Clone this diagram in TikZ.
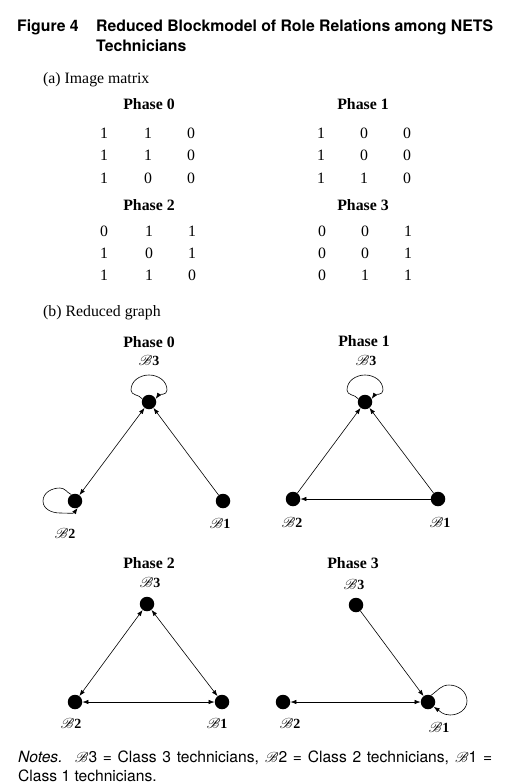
\documentclass[tikz,border=0pt]{standalone}
\usepackage{fontspec}
\setmainfont{Liberation Serif}
\setsansfont{TeX Gyre Heros}
\usepackage{mathrsfs}
\usetikzlibrary{arrows.meta,calc}
\newcommand{\BB}[1]{$\mathscr{B}$\textbf{#1}}
\newcommand{\BN}[1]{$\mathscr{B}$#1}
\begin{document}
\begin{tikzpicture}[x=1pt,y=1pt,
  vtx/.style={circle,fill=black,inner sep=0pt,minimum size=14.5pt},
  arr/.style={-{Latex[length=6pt,width=4.5pt]},line width=0.6pt},
  barr/.style={{Latex[length=6pt,width=4.5pt]}-{Latex[length=6pt,width=4.5pt]},line width=0.6pt},
  lbl/.style={font=\fontsize{14}{16}\selectfont,inner sep=0pt},
  body/.style={font=\fontsize{15.8}{18}\selectfont,inner sep=0pt},
  head/.style={font=\fontsize{15.8}{18}\selectfont\bfseries,inner sep=0pt},
  ttl/.style={font=\sffamily\bfseries\fontsize{15.8}{19}\selectfont,inner sep=0pt,anchor=base west},
  note/.style={font=\sffamily\fontsize{15.6}{18}\selectfont,inner sep=0pt,anchor=base west},
]
\useasboundingbox (0,0) rectangle (511,-784);

% title
\node[ttl] (fig) at (17,-32) {Figure 4};
\node[ttl] (t1) at (96,-32) {Reduced Blockmodel of Role Relations among NETS};
\node[ttl] (t2) at (96,-52) {Technicians};

% (a) image matrix
\node[body,anchor=base west] (pa) at (43,-84) {(a) Image matrix};
\node[head,anchor=base] (h0) at (149,-109.5) {Phase 0};
\node[head,anchor=base] (h1) at (363,-109.5) {Phase 1};
\node[head,anchor=base] (h2) at (149,-210) {Phase 2};
\node[head,anchor=base] (h3) at (363,-210) {Phase 3};

% Phase 0 matrix
\node[body] (m0a) at (104,-133) {1}; \node[body] (m0b) at (148,-133) {1}; \node[body] (m0c) at (191,-133) {0};
\node[body] (m0d) at (104,-155) {1}; \node[body] (m0e) at (148,-155) {1}; \node[body] (m0f) at (191,-155) {0};
\node[body] (m0g) at (104,-178) {1}; \node[body] (m0h) at (148,-178) {0}; \node[body] (m0i) at (191,-178) {0};
% Phase 1 matrix
\node[body] (m1a) at (321,-133) {1}; \node[body] (m1b) at (364,-133) {0}; \node[body] (m1c) at (407,-133) {0};
\node[body] (m1d) at (321,-155) {1}; \node[body] (m1e) at (364,-155) {0}; \node[body] (m1f) at (407,-155) {0};
\node[body] (m1g) at (321,-178) {1}; \node[body] (m1h) at (364,-178) {1}; \node[body] (m1i) at (407,-178) {0};
% Phase 2 matrix
\node[body] (m2a) at (104,-231) {0}; \node[body] (m2b) at (149,-231) {1}; \node[body] (m2c) at (192,-231) {1};
\node[body] (m2d) at (104,-253) {1}; \node[body] (m2e) at (149,-253) {0}; \node[body] (m2f) at (192,-253) {1};
\node[body] (m2g) at (104,-275) {1}; \node[body] (m2h) at (149,-275) {1}; \node[body] (m2i) at (192,-275) {0};
% Phase 3 matrix
\node[body] (m3a) at (322,-231) {0}; \node[body] (m3b) at (365,-231) {0}; \node[body] (m3c) at (408,-231) {1};
\node[body] (m3d) at (322,-253) {0}; \node[body] (m3e) at (365,-253) {0}; \node[body] (m3f) at (408,-253) {1};
\node[body] (m3g) at (322,-275) {0}; \node[body] (m3h) at (365,-275) {1}; \node[body] (m3i) at (408,-275) {1};

% (b) reduced graph
\node[body,anchor=base west] (pb) at (43,-316) {(b) Reduced graph};

% ---------- Phase 0 graph
\node[head] (g0) at (149,-342) {Phase 0};
\node[vtx] (a3) at (149,-402) {};
\node[vtx] (a2) at (75,-501) {};
\node[vtx] (a1) at (223,-501) {};
\node[lbl] (la3) at (149,-361) {\BB{3}};
\node[lbl] (la2) at (65,-533) {\BB{2}};
\node[lbl] (la1) at (220,-523) {\BB{1}};
\draw[barr] (a3) -- (a2);
\draw[arr] (a1) -- (a3);
\draw[arr] (a3.155) to[out=125,in=-90] ($(a3)+(-18,12)$) to[out=90,in=180] ($(a3)+(0,27)$)
  to[out=0,in=90] ($(a3)+(18,12)$) to[out=-90,in=55] (a3.25);
\draw[arr] (a2.120) to[out=155,in=0] ($(a2)+(-15,13)$) to[out=180,in=90] ($(a2)+(-32,0)$)
  to[out=-90,in=180] ($(a2)+(-15,-12)$) to[out=0,in=-125] (a2.-70);

% ---------- Phase 1 graph
\node[head] (g1) at (364,-341) {Phase 1};
\node[vtx] (b3) at (365,-402) {};
\node[vtx] (b2) at (293,-499) {};
\node[vtx] (b1) at (438,-499) {};
\node[lbl] (lb3) at (366,-361) {\BB{3}};
\node[lbl] (lb2) at (292,-522) {\BB{2}};
\node[lbl] (lb1) at (440,-522) {\BB{1}};
\draw[arr] (b2) -- (b3);
\draw[arr] (b1) -- (b3);
\draw[arr] (b1) -- (b2);
\draw[arr] (b3.155) to[out=125,in=-90] ($(b3)+(-18,12)$) to[out=90,in=180] ($(b3)+(0,27)$)
  to[out=0,in=90] ($(b3)+(18,12)$) to[out=-90,in=55] (b3.25);

% ---------- Phase 2 graph
\node[head] (g2) at (149,-563) {Phase 2};
\node[vtx] (c3) at (147,-604) {};
\node[vtx] (c2) at (75,-702) {};
\node[vtx] (c1) at (222,-702) {};
\node[lbl] (lc3) at (150,-583) {\BB{3}};
\node[lbl] (lc2) at (71,-723) {\BB{2}};
\node[lbl] (lc1) at (217,-723) {\BB{1}};
\draw[barr] (c3) -- (c2);
\draw[barr] (c3) -- (c1);
\draw[barr] (c2) -- (c1);

% ---------- Phase 3 graph
\node[head] (g3) at (353,-563) {Phase 3};
\node[vtx] (d3) at (356,-605) {};
\node[vtx] (d2) at (283,-702) {};
\node[vtx] (d1) at (428,-702) {};
\node[lbl] (ld3) at (354,-585) {\BB{3}};
\node[lbl] (ld2) at (290,-723) {\BB{2}};
\node[lbl] (ld1) at (439,-727) {\BB{1}};
\draw[arr] (d3) -- (d1);
\draw[barr] (d2) -- (d1);
\draw[arr] (d1.65) to[out=35,in=180] ($(d1)+(21,17)$) to[out=0,in=90] ($(d1)+(39,1)$)
  to[out=-90,in=0] ($(d1)+(22,-13)$) to[out=180,in=-35] (d1.-40);

% notes
\node[note] (n1) at (18,-762) {\hbox to 474pt{\textit{Notes.}\hspace{0.6em plus 0.3em}\BN{3} = Class 3 technicians, \BN{2} = Class 2 technicians, \BN{1} =}};
\node[note] (n2) at (18,-781) {Class 1 technicians.};
\end{tikzpicture}
\end{document}
